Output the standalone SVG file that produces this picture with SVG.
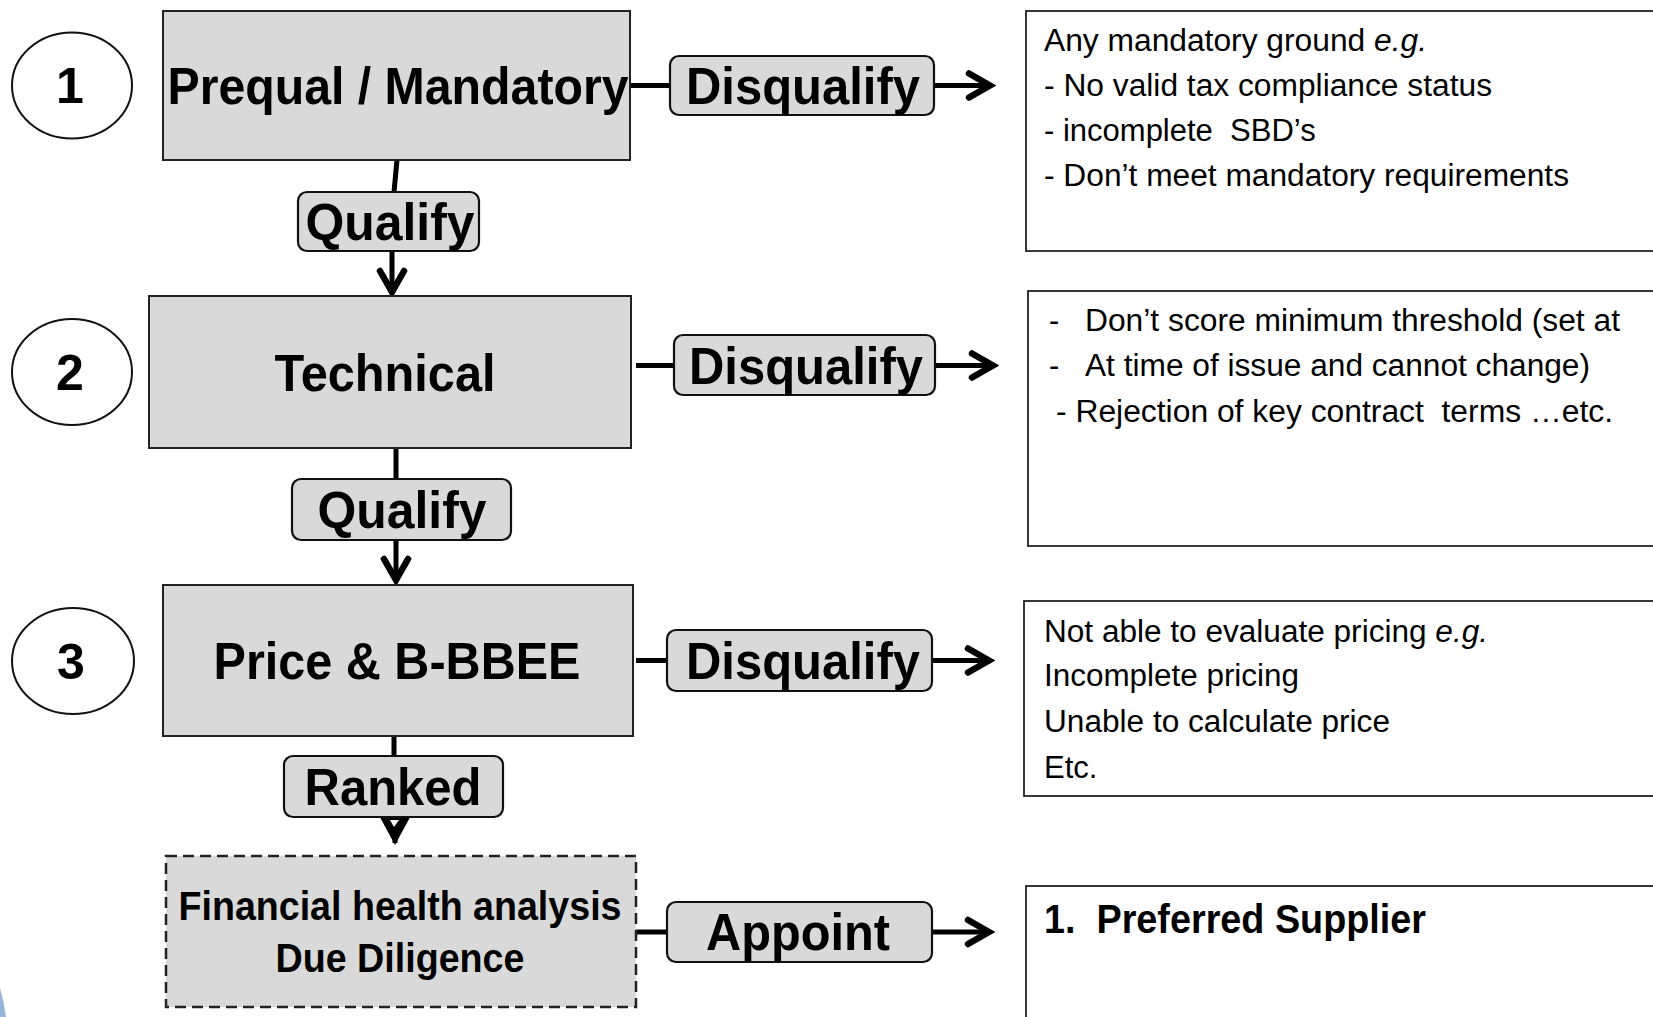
<svg xmlns="http://www.w3.org/2000/svg" width="1653" height="1017" viewBox="0 0 1653 1017">
<style>
.bg{fill:#ffffff}
.step{fill:#d9d9d9;stroke:#222;stroke-width:2}
.dash{fill:#d9d9d9;stroke:#222;stroke-width:2.5;stroke-dasharray:11 6}
.lbl{fill:#d9d9d9;stroke:#111;stroke-width:2.2}
.note{fill:#ffffff;stroke:#222;stroke-width:1.8}
.num{fill:#ffffff;stroke:#111;stroke-width:2}
.bt{font-family:"Liberation Sans",Arial,sans-serif;font-weight:bold;fill:#000}
.rt{font-family:"Liberation Sans",Arial,sans-serif;font-size:31px;fill:#000}
.c{text-anchor:middle}
.ln{fill:none;stroke:#000;stroke-width:5}
</style>
<defs>
<marker id="arr" viewBox="0 0 32 32" refX="26" refY="16" markerWidth="32" markerHeight="32" markerUnits="userSpaceOnUse" orient="auto">
<path d="M5,4 L26,16 L5,28" fill="none" stroke="#000" stroke-width="6.5" stroke-linecap="round" stroke-linejoin="miter"/>
</marker>
<marker id="tri" viewBox="0 0 32 32" refX="28" refY="16" markerWidth="32" markerHeight="32" markerUnits="userSpaceOnUse" orient="auto">
<path d="M2,2 L28,16 L2,30 Z" fill="#000" stroke="#000" stroke-width="2" stroke-linejoin="miter"/>
<path d="M5,12 L12,17 L5,21 Z" fill="#ffffff"/>
</marker>
</defs>
<rect class="bg" x="0" y="0" width="1653" height="1017"/>
<path d="M0,988 Q4,1002 6,1017 L0,1017 Z" fill="#3f74b8" opacity="0.55"/>

<g id="connectors">
<line class="ln" x1="397" y1="160" x2="394" y2="192"/>
<line class="ln" x1="392" y1="251" x2="392" y2="292" marker-end="url(#arr)"/>
<line class="ln" x1="396" y1="448" x2="396" y2="479"/>
<line class="ln" x1="396" y1="540" x2="396" y2="580" marker-end="url(#arr)"/>
<line class="ln" x1="394" y1="736" x2="394" y2="756"/>
<line class="ln" x1="395" y1="817" x2="395" y2="843" marker-end="url(#tri)"/>
<line class="ln" x1="630" y1="85.5" x2="670" y2="85.5"/>
<line class="ln" x1="934" y1="85.5" x2="990" y2="85.5" marker-end="url(#arr)"/>
<line class="ln" x1="636" y1="365.5" x2="674" y2="365.5"/>
<line class="ln" x1="935" y1="365.5" x2="993" y2="365.5" marker-end="url(#arr)"/>
<line class="ln" x1="636" y1="660.5" x2="667" y2="660.5"/>
<line class="ln" x1="932" y1="660.5" x2="989" y2="660.5" marker-end="url(#arr)"/>
<line class="ln" x1="636" y1="932" x2="667" y2="932"/>
<line class="ln" x1="932" y1="932" x2="989" y2="932" marker-end="url(#arr)"/>
</g>

<g id="num1"><ellipse class="num" cx="72" cy="85.5" rx="60" ry="53"/><text class="bt c" x="70" y="103" font-size="50">1</text></g>
<g id="num2"><ellipse class="num" cx="72" cy="372" rx="60" ry="53"/><text class="bt c" x="70" y="390" font-size="50">2</text></g>
<g id="num3"><ellipse class="num" cx="73" cy="661" rx="61" ry="53"/><text class="bt c" x="71" y="679" font-size="50">3</text></g>

<g id="prequal"><rect class="step" x="163" y="11" width="467" height="149"/><text class="bt c" x="398" y="104" font-size="52" textLength="461" lengthAdjust="spacingAndGlyphs">Prequal / Mandatory</text></g>
<g id="technical"><rect class="step" x="149" y="296" width="482" height="152"/><text class="bt c" x="385" y="391" font-size="52" textLength="221" lengthAdjust="spacingAndGlyphs">Technical</text></g>
<g id="price"><rect class="step" x="163" y="585" width="470" height="151"/><text class="bt c" x="397" y="679" font-size="52" textLength="367" lengthAdjust="spacingAndGlyphs">Price &amp; B-BBEE</text></g>
<g id="financial"><rect class="dash" x="166" y="856" width="470" height="151"/><text class="bt c" x="400" y="920" font-size="40" textLength="443" lengthAdjust="spacingAndGlyphs">Financial health analysis</text><text class="bt c" x="400" y="972" font-size="40" textLength="249" lengthAdjust="spacingAndGlyphs">Due Diligence</text></g>

<g id="qualify1"><rect class="lbl" x="298" y="192" width="181" height="59" rx="9"/><text class="bt c" x="390" y="240" font-size="52" textLength="169" lengthAdjust="spacingAndGlyphs">Qualify</text></g>
<g id="qualify2"><rect class="lbl" x="292" y="479" width="219" height="61" rx="9"/><text class="bt c" x="402" y="528" font-size="52" textLength="169" lengthAdjust="spacingAndGlyphs">Qualify</text></g>
<g id="ranked"><rect class="lbl" x="284" y="756" width="219" height="61" rx="9"/><text class="bt c" x="393" y="805" font-size="52" textLength="177" lengthAdjust="spacingAndGlyphs">Ranked</text></g>

<g id="disq1"><rect class="lbl" x="670" y="56" width="264" height="59" rx="9"/><text class="bt c" x="803" y="104" font-size="52" textLength="234" lengthAdjust="spacingAndGlyphs">Disqualify</text></g>
<g id="disq2"><rect class="lbl" x="674" y="335" width="261" height="60" rx="9"/><text class="bt c" x="806" y="384" font-size="52" textLength="234" lengthAdjust="spacingAndGlyphs">Disqualify</text></g>
<g id="disq3"><rect class="lbl" x="667" y="630" width="265" height="61" rx="9"/><text class="bt c" x="803" y="679" font-size="52" textLength="234" lengthAdjust="spacingAndGlyphs">Disqualify</text></g>
<g id="appoint"><rect class="lbl" x="667" y="902" width="265" height="60" rx="9"/><text class="bt c" x="798" y="950" font-size="52" textLength="184" lengthAdjust="spacingAndGlyphs">Appoint</text></g>

<g id="note1"><rect class="note" x="1026" y="11" width="650" height="240"/>
<text class="rt" x="1044" y="51" textLength="383" lengthAdjust="spacingAndGlyphs">Any mandatory ground <tspan font-style="italic">e.g.</tspan></text>
<text class="rt" x="1044" y="96" textLength="448" lengthAdjust="spacingAndGlyphs">- No valid tax compliance status</text>
<text class="rt" x="1044" y="141" xml:space="preserve">- incomplete  SBD’s</text>
<text class="rt" x="1044" y="186" textLength="525" lengthAdjust="spacingAndGlyphs">- Don’t meet mandatory requirements</text>
</g>
<g id="note2"><rect class="note" x="1028" y="291" width="650" height="255"/>
<text class="rt" y="331"><tspan x="1049">-</tspan><tspan x="1085" textLength="535" lengthAdjust="spacingAndGlyphs">Don’t score minimum threshold (set at</tspan></text>
<text class="rt" y="376"><tspan x="1049">-</tspan><tspan x="1085" textLength="505" lengthAdjust="spacingAndGlyphs">At time of issue and cannot change)</tspan></text>
<text class="rt" x="1056" y="422" xml:space="preserve" textLength="557" lengthAdjust="spacingAndGlyphs">- Rejection of key contract  terms …etc.</text>
</g>
<g id="note3"><rect class="note" x="1024" y="601" width="650" height="195"/>
<text class="rt" x="1044" y="642" textLength="444" lengthAdjust="spacingAndGlyphs">Not able to evaluate pricing <tspan font-style="italic">e.g.</tspan></text>
<text class="rt" x="1044" y="686" textLength="255" lengthAdjust="spacingAndGlyphs">Incomplete pricing</text>
<text class="rt" x="1044" y="732" textLength="346" lengthAdjust="spacingAndGlyphs">Unable to calculate price</text>
<text class="rt" x="1044" y="778">Etc.</text>
</g>
<g id="note4"><rect class="note" x="1026" y="886" width="650" height="160"/>
<text class="bt" x="1044" y="933" font-size="41" xml:space="preserve" textLength="382" lengthAdjust="spacingAndGlyphs">1.  Preferred Supplier</text>
</g>
</svg>
